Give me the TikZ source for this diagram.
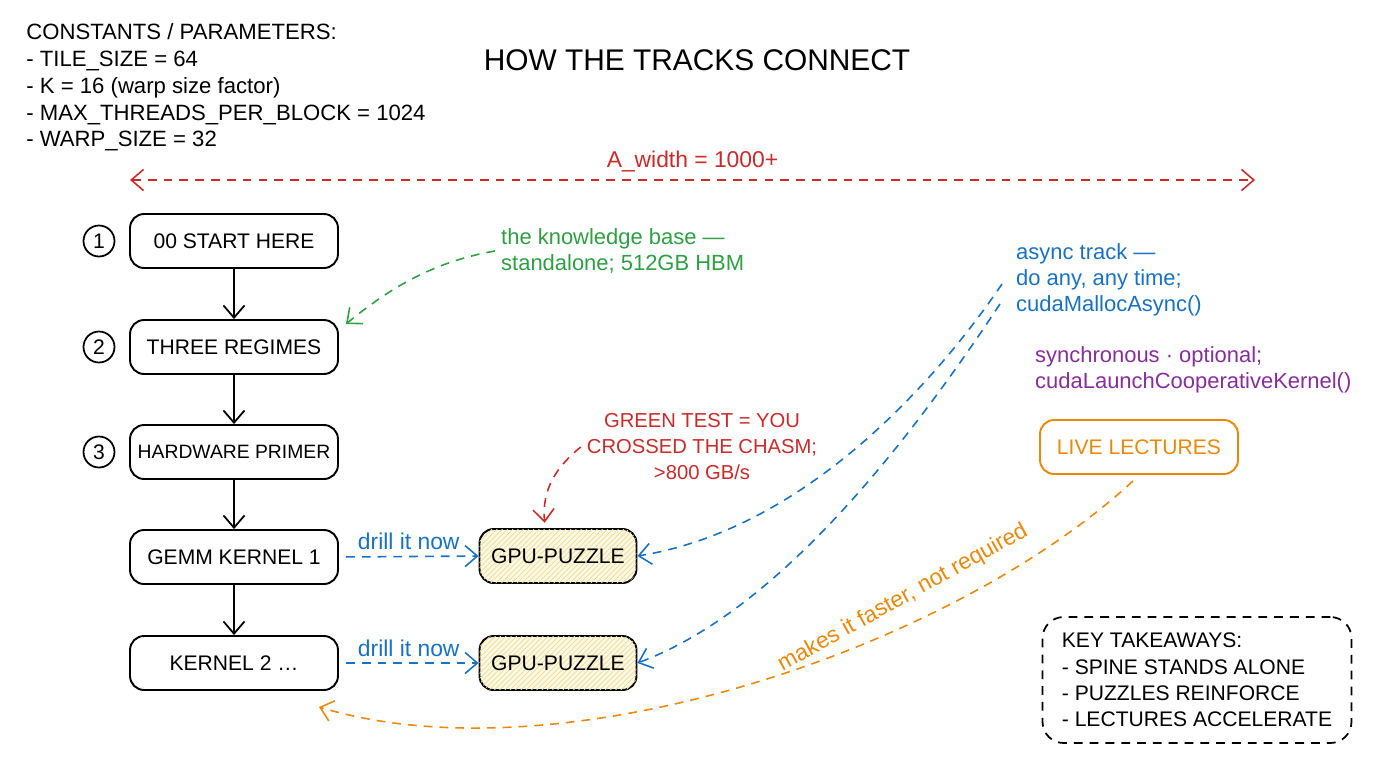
\documentclass[tikz,border=0pt]{standalone}
\usepackage{fontspec}
\setmainfont{Liberation Sans}
\usetikzlibrary{arrows.meta,patterns}
\definecolor{cred}{HTML}{C92A2A}
\definecolor{cgreen}{HTML}{2F9E44}
\definecolor{cblue}{HTML}{1971C2}
\definecolor{cpurple}{HTML}{862E9C}
\definecolor{corange}{HTML}{E8890C}
\definecolor{cpuzzle}{HTML}{FDF8E2}
\definecolor{chatch}{HTML}{EEDC9A}
\tikzset{
  spine/.style={draw,rounded corners=8pt,line width=1.1pt,minimum width=4.16cm,minimum height=1.08cm,inner xsep=2pt,font=\fontsize{12}{14}\selectfont},
  puzzle/.style={spine,minimum width=3.14cm,fill=cpuzzle,postaction={pattern=north east lines,pattern color=chatch}},
  lecture/.style={spine,draw=corange,text=corange,minimum width=3.96cm},
  keybox/.style={draw,dsh,rounded corners=12pt,line width=1pt,align=left,minimum width=6.18cm,minimum height=2.52cm,font=\fontsize{12}{15}\selectfont},
  num/.style={draw,circle,line width=1pt,minimum size=0.62cm,inner sep=0pt,font=\fontsize{12}{14}\selectfont},
  note/.style={align=left,font=\fontsize{12.5}{14.7}\selectfont},
  dsh/.style={dash pattern=on 5pt off 4pt},
  tip/.style={-{Straight Barb[length=7pt,width=12pt]}},
  link/.style={dsh,line width=0.9pt,tip}
}
\begin{document}
\begin{tikzpicture}[x=0.02cm,y=-0.02cm]
\useasboundingbox (0,0) rectangle (1376,768);
\node[anchor=north west,align=left,inner sep=0pt,font=\fontsize{12.6}{15.3}\selectfont] (consts) at (26,23) {CONSTANTS / PARAMETERS:\\- TILE\_SIZE = 64\\- K = 16 (warp size factor)\\- MAX\_THREADS\_PER\_BLOCK = 1024\\- WARP\_SIZE = 32};
\node[font=\fontsize{17}{20}\selectfont] (title) at (697,60) {HOW THE TRACKS CONNECT};
\coordinate (wl) at (130,180);
\coordinate (wr) at (1255,180);
\draw[cred,dsh,line width=0.9pt,{Straight Barb[length=7pt,width=12pt]}-{Straight Barb[length=7pt,width=12pt]}] (wl) -- node[above=1pt,font=\fontsize{13}{15}\selectfont] (awidth) {A\_width = 1000+} (wr);
\node[spine] (s1) at (234,241) {00 START HERE};
\node[spine] (s2) at (234,347) {THREE REGIMES};
\node[spine,font=\fontsize{11}{13}\selectfont] (s3) at (234,452) {HARDWARE PRIMER};
\node[spine] (s4) at (234,557) {GEMM KERNEL 1};
\node[spine] (s5) at (234,663) {KERNEL 2 \ldots};
\node[num] (c1) at (99,241) {1};
\node[num] (c2) at (99,347) {2};
\node[num] (c3) at (99,452) {3};
\draw[line width=1pt,tip] (s1) -- (s2);
\draw[line width=1pt,tip] (s2) -- (s3);
\draw[line width=1pt,tip] (s3) -- (s4);
\draw[line width=1pt,tip] (s4) -- (s5);
\node[puzzle] (p1) at (558,556) {GPU-PUZZLE};
\node[puzzle] (p2) at (558,663) {GPU-PUZZLE};
\draw[cblue,link,shorten <=4pt] (s4.east) -- node[above,font=\fontsize{13}{15}\selectfont] {drill it now} (p1.west);
\draw[cblue,link,shorten <=4pt] (s5.east) -- node[above,font=\fontsize{13}{15}\selectfont] {drill it now} (p2.west);
\node[note,anchor=west,text=cgreen] (kb) at (495,251) {the knowledge base —\\standalone; 512GB HBM};
\draw[cgreen,link] (kb.west) .. controls (430,262) and (385,292) .. ([shift={(7,5)}]s2.north east);
\node[align=center,text=cred,font=\fontsize{11.5}{14.8}\selectfont] (chasm) at (702,447) {GREEN TEST = YOU\\CROSSED THE CHASM;\\>800 GB/s};
\draw[cred,link,shorten >=3pt] (chasm.west) .. controls (555,468) and (542,490) .. ([shift={(-13,0)}]p1.north);
\node[note,anchor=west,text=cblue] (async) at (1010,280) {async track —\\do any, any time;\\cudaMallocAsync()};
\draw[cblue,link] ([shift={(-8,4)}]async.west) .. controls (930,390) and (800,530) .. (p1.east);
\node[note,anchor=west,text=cpurple] (sync) at (1029,370) {synchronous · optional;\\cudaLaunchCooperativeKernel()};
\draw[cblue,link] ([shift={(-10,24)}]async.west) .. controls (910,440) and (780,610) .. (p2.east);
\node[lecture] (lec) at (1139,447) {LIVE LECTURES};
\draw[corange,link] ([shift={(-6,6)}]lec.south) .. controls (950,650) and (560,780) .. ([shift={(-20,16)}]s5.south east);
\node[text=corange,rotate=29,font=\fontsize{13}{15}\selectfont] (fast) at (903,598) {makes it faster, not required};
\node[keybox] (key) at (1197,680) {KEY TAKEAWAYS:\\- SPINE STANDS ALONE\\- PUZZLES REINFORCE\\- LECTURES ACCELERATE};
\end{tikzpicture}
\end{document}
